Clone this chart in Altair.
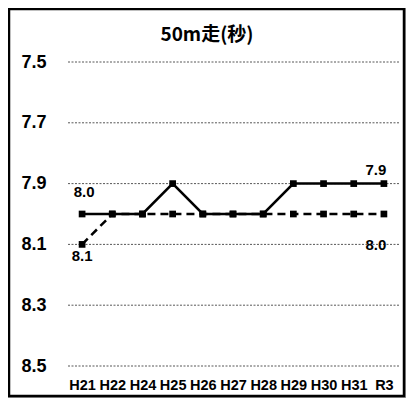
import altair as alt
import pandas as pd

years = ["H21", "H22", "H24", "H25", "H26", "H27", "H28", "H29", "H30", "H31", "R3"]
solid_vals = [8.0, 8.0, 8.0, 7.9, 8.0, 8.0, 8.0, 7.9, 7.9, 7.9, 7.9]
dashed_vals = [8.1, 8.0, 8.0, 8.0, 8.0, 8.0, 8.0, 8.0, 8.0, 8.0, 8.0]
y_ticks = [7.5, 7.7, 7.9, 8.1, 8.3, 8.5]
title_text = "50m走(秒)"

df = pd.DataFrame({
    "year": years * 2,
    "value": solid_vals + dashed_vals,
    "series": ["solid"] * len(years) + ["dashed"] * len(years),
})
df["label"] = df["value"].map(lambda v: f"{v:.1f}")
grid_df = pd.DataFrame({"tick": y_ticks})
one = pd.DataFrame({"k": [0]})

W, H = 332, 304
LABEL_FONT = "Liberation Sans"

yscale = alt.Scale(domain=[7.5, 8.5], reverse=True, zero=False, nice=False)
yaxis = alt.Axis(title=None, values=y_ticks, format=".1f", ticks=False, domain=False,
                 grid=False, labelFont=LABEL_FONT, labelFontSize=18,
                 labelFontWeight="bold", labelColor="black", labelPadding=21, zindex=2)
xenc = alt.X("year:N", sort=years, scale=alt.Scale(type="point", padding=0.5),
             axis=alt.Axis(title=None, labelAngle=0, ticks=False, domain=False, grid=False,
                           labelFont=LABEL_FONT, labelFontSize=14.5, labelFontWeight="bold",
                           labelColor="black", labelPadding=12, labelOverlap=False, zindex=2))
yenc = alt.Y("value:Q", scale=yscale, axis=yaxis)

frame = alt.Chart(one).mark_rect(fill="white", stroke="black", strokeWidth=2.5).encode(
    x=alt.value(-58), x2=alt.value(337), y=alt.value(-53), y2=alt.value(334))

grid = alt.Chart(grid_df).mark_rule(color="#444", strokeDash=[2, 1.5], strokeWidth=0.9).encode(
    y=alt.Y("tick:Q", scale=yscale, axis=yaxis))

base = alt.Chart(df).encode(x=xenc, y=yenc)

dashed_line = base.transform_filter(alt.datum.series == "dashed").mark_line(
    color="black", strokeWidth=2.5, strokeDash=[8, 5])
solid_line = base.transform_filter(alt.datum.series == "solid").mark_line(
    color="black", strokeWidth=2.5)
points = base.mark_point(shape="square", filled=True, color="black", size=45, opacity=1)

lab_style = dict(font=LABEL_FONT, fontSize=15, fontWeight="bold", color="black",
                 align="center", baseline="middle")
first = years[0]
last = years[-1]
lab1 = base.transform_filter((alt.datum.series == "solid") & (alt.datum.year == first)).mark_text(
    dx=2, dy=-22, **lab_style).encode(text="label:N")
lab2 = base.transform_filter((alt.datum.series == "dashed") & (alt.datum.year == first)).mark_text(
    dx=0, dy=12, **lab_style).encode(text="label:N")
lab3 = base.transform_filter((alt.datum.series == "solid") & (alt.datum.year == last)).mark_text(
    dx=-8, dy=-14, **lab_style).encode(text="label:N")
lab4 = base.transform_filter((alt.datum.series == "dashed") & (alt.datum.year == last)).mark_text(
    dx=-8, dy=31, **lab_style).encode(text="label:N")

title = alt.Chart(one).mark_text(font="Noto Sans CJK JP", fontSize=19, fontWeight="bold",
                                 color="black", align="center", baseline="middle").encode(
    x=alt.value(140), y=alt.value(-27), text=alt.value(title_text))

chart = alt.layer(frame, grid, dashed_line, solid_line, points, lab1, lab2, lab3, lab4, title).properties(
    width=W, height=H, autosize="none",
    padding={"left": 59, "top": 54, "right": 7, "bottom": 32},
    background="#9c9c9c",
).configure_view(stroke=None)

chart.save("out.html", embed_options={"renderer": "svg", "actions": False})
